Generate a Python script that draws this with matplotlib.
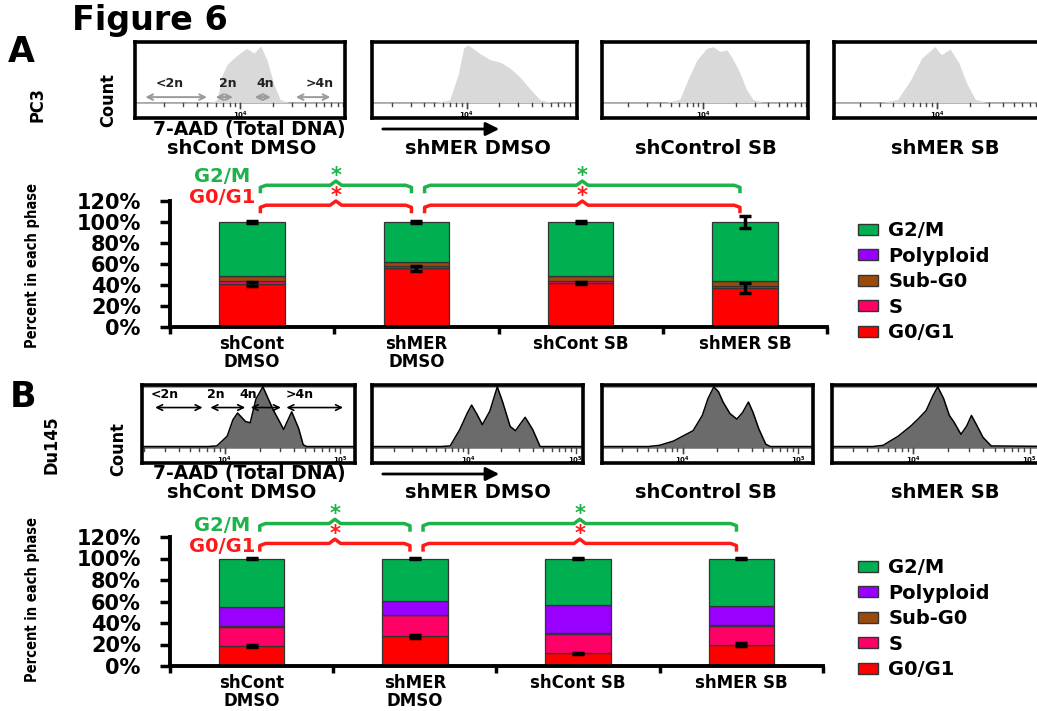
import numpy as np
import matplotlib
matplotlib.use("Agg")
import matplotlib.pyplot as plt
from matplotlib.patches import Patch, FancyArrowPatch

W, H = 1037, 711

# ---- bar chart data (percent of cells in each phase) ----
phases = ["G0/G1", "S", "Sub-G0", "Polyploid", "G2/M"]
phase_colors = ["#ff0000", "#ff0066", "#9c4a0a", "#9900ff", "#00b050"]
bar_labels = ["shCont\nDMSO", "shMER\nDMSO", "shCont SB", "shMER SB"]
hist_titles = ["shCont DMSO", "shMER DMSO", "shControl SB", "shMER SB"]
yticks_pct = [0, 20, 40, 60, 80, 100, 120]

pc3_g0g1 = [41, 56, 42, 37]
pc3_s = [3, 2.5, 2, 2]
pc3_subg0 = [4.5, 3.5, 4.5, 5]
pc3_poly = [0, 0, 0, 0]
pc3_g2m = [51.5, 38, 51.5, 56]
pc3_g0g1_err = [1.5, 2.5, 1.0, 5.0]
pc3_top_err = [1.0, 1.0, 0.5, 5.5]

du_g0g1 = [18.5, 27.5, 12, 20]
du_s = [17.5, 19.5, 17.5, 17.3]
du_subg0 = [1.5, 0.5, 0.8, 0.7]
du_poly = [17.5, 13, 26, 18]
du_g2m = [45, 39.5, 43.7, 44]
du_g0g1_err = [0.8, 1.2, 0.5, 1.2]
du_top_err = [0.6, 0.6, 0.3, 0.3]

# significant comparisons (bar index pairs)
comparisons = [(0, 1), (1, 3)]

# ---- DNA histograms: log10(7-AAD) vs relative count ----
pc3_cd_x = [2.9, 3.6, 3.75, 3.79, 3.83, 3.88, 3.94, 4.0, 4.06, 4.13, 4.19, 4.25, 4.31, 4.37, 4.45, 5.2]
pc3_cd_y = [0.01, 0.01, 0.02, 0.06, 0.46, 0.66, 0.77, 0.86, 0.94, 0.86, 0.98, 0.74, 0.34, 0.06, 0.01, 0.01]
pc3_md_x = [2.9, 3.7, 3.84, 3.92, 3.97, 4.01, 4.12, 4.21, 4.31, 4.40, 4.49, 4.58, 4.68, 4.8, 5.2]
pc3_md_y = [0.01, 0.01, 0.05, 0.5, 0.95, 1.0, 0.85, 0.75, 0.7, 0.6, 0.45, 0.25, 0.05, 0.01, 0.01]
pc3_cs_x = [2.9, 3.65, 3.78, 3.87, 3.94, 4.03, 4.09, 4.15, 4.22, 4.27, 4.34, 4.40, 4.46, 4.55, 5.2]
pc3_cs_y = [0.01, 0.01, 0.06, 0.46, 0.74, 0.94, 0.97, 0.89, 0.91, 0.77, 0.51, 0.23, 0.06, 0.01, 0.01]
pc3_ms_x = [2.9, 3.5, 3.64, 3.76, 3.86, 3.98, 4.04, 4.12, 4.20, 4.27, 4.35, 4.45, 5.2]
pc3_ms_y = [0.01, 0.01, 0.06, 0.40, 0.77, 0.97, 0.83, 0.93, 0.69, 0.34, 0.06, 0.01, 0.01]

du_cd_x = [3.0, 3.85, 3.93, 4.02, 4.07, 4.11, 4.18, 4.22, 4.27, 4.33, 4.42, 4.48, 4.51, 4.58, 4.64, 4.68, 4.71, 5.3]
du_cd_y = [0.02, 0.02, 0.03, 0.19, 0.46, 0.57, 0.43, 0.41, 0.8, 1.0, 0.62, 0.41, 0.30, 0.59, 0.32, 0.05, 0.02, 0.02]
du_md_x = [3.0, 3.74, 3.83, 3.92, 3.99, 4.03, 4.08, 4.13, 4.20, 4.27, 4.32, 4.39, 4.44, 4.48, 4.53, 4.60, 4.67, 5.3]
du_md_y = [0.02, 0.02, 0.03, 0.3, 0.57, 0.7, 0.55, 0.38, 0.6, 1.0, 0.75, 0.35, 0.28, 0.38, 0.5, 0.3, 0.02, 0.02]
du_cs_x = [3.0, 3.7, 3.80, 3.92, 4.0, 4.09, 4.17, 4.22, 4.27, 4.31, 4.35, 4.41, 4.47, 4.52, 4.57, 4.61, 4.66, 4.72, 4.76, 5.3]
du_cs_y = [0.02, 0.02, 0.04, 0.11, 0.19, 0.28, 0.53, 0.81, 1.0, 0.92, 0.75, 0.56, 0.47, 0.58, 0.75, 0.58, 0.31, 0.06, 0.02, 0.02]
du_ms_x = [3.0, 3.65, 3.74, 3.87, 3.98, 4.04, 4.11, 4.17, 4.21, 4.26, 4.31, 4.35, 4.41, 4.46, 4.50, 4.54, 4.60, 4.67, 5.3]
du_ms_y = [0.02, 0.02, 0.04, 0.19, 0.36, 0.47, 0.61, 0.86, 1.0, 0.81, 0.53, 0.42, 0.22, 0.36, 0.53, 0.39, 0.17, 0.03, 0.02]

gate_labels = ["<2n", "2n", "4n", ">4n"]
pc3_gates = [(3.10, 3.72), (3.75, 3.96), (4.11, 4.31), (4.49, 4.86)]
du_gates = [(3.37, 3.83), (3.85, 4.20), (4.20, 4.51), (4.51, 5.05)]
pc3_gate_text_x = [3.35, 3.89, 4.23, 4.74]
du_gate_text_x = [3.48, 3.92, 4.20, 4.65]

plt.rcParams["font.family"] = "DejaVu Sans"
plt.rcParams["font.weight"] = "bold"
NARROW = ["Liberation Sans Narrow", "DejaVu Sans"]

fig = plt.figure(figsize=(W / 100, H / 100), dpi=100)


def fx(px):
    return px / W


def fy(py):
    return 1 - py / H


def px_axes(x0, y0, x1, y1):
    return fig.add_axes([fx(x0), fy(y1), (x1 - x0) / W, (y1 - y0) / H])


def draw_hist(ax, xs, ys, xlim, ylim, dark, label_decs):
    ax.set_xlim(xlim)
    ax.set_ylim(ylim)
    ax.axhline(0, color="#8a8a8a", lw=1.2, zorder=1)
    if dark:
        ax.fill_between(xs, 0, ys, color="#6b6b6b", lw=0, zorder=2)
        ax.plot(xs, ys, color="black", lw=1.1, zorder=3)
        ax.axhline(ylim[1] - 0.03, color="#a0a0a0", lw=1.5)
    else:
        ax.fill_between(xs, 0, ys, color="#d9d9d9", lw=0, zorder=2)
    for dec in (3, 4):
        for k in range(1, 10):
            t = np.log10(k * 10 ** dec)
            if xlim[0] < t < xlim[1]:
                ln = 0.09 if k == 1 else 0.05
                ax.plot([t, t], [0, -ln], color="#444", lw=1)
    for dec in label_decs:
        if xlim[0] < dec < xlim[1]:
            ax.plot([dec, dec], [0, -0.09], color="#444", lw=1)
            ax.text(dec, -0.12, f"$10^{dec}$", fontsize=5, ha="center", va="top",
                    fontweight="normal")
    ax.set_xticks([])
    ax.set_yticks([])
    for sp in ax.spines.values():
        sp.set_linewidth(2.6)


def draw_bars(ax, stacks, g1_err, top_err, green_y, red_y, lab_y):
    x = np.arange(len(bar_labels)) + 0.5
    bottoms = np.zeros(len(x))
    for vals, col in zip(stacks, phase_colors):
        ax.bar(x, vals, 0.4, bottom=bottoms, color=col, edgecolor="#333333", lw=0.9, zorder=2)
        bottoms = bottoms + np.array(vals)
    ekw = dict(fmt="none", ecolor="black", elinewidth=2.5, capsize=4, capthick=2.5, zorder=4)
    ax.errorbar(x, stacks[0], yerr=g1_err, **ekw)
    ax.errorbar(x, bottoms, yerr=top_err, **ekw)
    ax.set_xlim(0, 4)
    ax.set_ylim(0, 120)
    ax.set_yticks(yticks_pct)
    ax.set_yticklabels([f"{v}%" for v in yticks_pct], fontsize=15, fontweight="bold")
    ax.set_xticks(range(5))
    ax.set_xticklabels([])
    ax.set_xticks(x, minor=True)
    ax.set_xticklabels(bar_labels, minor=True, fontsize=12, fontweight="bold",
                       linespacing=0.95)
    ax.tick_params(axis="x", which="minor", length=0, pad=6)
    ax.tick_params(axis="x", which="major", length=5, width=2.5)
    ax.tick_params(axis="y", length=7, width=2.5, pad=14)
    for s in ("top", "right"):
        ax.spines[s].set_visible(False)
    for s in ("left", "bottom"):
        ax.spines[s].set_linewidth(2.8)

    # significance braces: green for G2/M, red for G0/G1
    for (i, j) in comparisons:
        x0, x1 = x[i] + 0.05, x[j] - 0.03
        mid = (x0 + x1) / 2
        d = 0.035
        for yb, col in ((green_y, "#1db34a"), (red_y, "#ff1a1a")):
            ax.plot([x0, x0, x0 + d, mid - d, mid, mid + d, x1 - d, x1, x1],
                    [yb - 6, yb - 2, yb, yb, yb + 4, yb, yb, yb - 2, yb - 6],
                    color=col, lw=2.5, clip_on=False, solid_joinstyle="round")
            ax.text(mid, yb + 9, "*", color=col, fontsize=15, ha="center", va="center",
                    clip_on=False)
    ax.text(0.49, lab_y[0], "G2/M", color="#1db34a", fontsize=14, ha="right", va="center")
    ax.text(0.52, lab_y[1], "G0/G1", color="#ff1a1a", fontsize=14, ha="right", va="center")


# ---- titles and row labels ----
fig.text(fx(72), fy(30), "Figure 6", fontsize=24, ha="left", va="baseline")
fig.text(fx(8), fy(52), "A", fontsize=25, ha="left", va="center")
fig.text(fx(10), fy(397), "B", fontsize=25, ha="left", va="center")
side = dict(family=NARROW, fontstretch="condensed", fontsize=13, rotation=90,
            ha="center", va="center")
fig.text(fx(38), fy(105), "PC3", **side)
fig.text(fx(108), fy(100), "Count", **side)
fig.text(fx(52), fy(445), "Du145", **side)
fig.text(fx(118), fy(449), "Count", **side)
ylab = dict(family=NARROW, fontstretch="condensed", fontsize=10.5, fontweight="bold",
            rotation=90, ha="center", va="center")
fig.text(fx(33), fy(266), "Percent in each phase", **ylab)
fig.text(fx(33), fy(600), "Percent in each phase", **ylab)

# ---- histogram rows ----
pc3_boxes = [(135, 345), (372, 577), (602, 808), (834, 1040)]
pc3_xlims = [(3.03, 4.97), (3.12, 5.02), (3.06, 4.97), (3.06, 4.94)]
du_boxes = [(142, 355), (372, 583), (602, 813), (832, 1040)]
du_xlims = [(3.28, 5.13), (3.10, 5.07), (3.30, 5.13), (3.30, 5.09)]
pc3_hists = [(pc3_cd_x, pc3_cd_y), (pc3_md_x, pc3_md_y), (pc3_cs_x, pc3_cs_y), (pc3_ms_x, pc3_ms_y)]
du_hists = [(du_cd_x, du_cd_y), (du_md_x, du_md_y), (du_cs_x, du_cs_y), (du_ms_x, du_ms_y)]
title_x = [242, 478, 706, 945]

for k, ((x0, x1), xl, (hx, hy)) in enumerate(zip(pc3_boxes, pc3_xlims, pc3_hists)):
    ax = px_axes(x0, 42, x1, 118)
    draw_hist(ax, hx, hy, xl, (-0.26, 1.05), dark=False, label_decs=(4,))
    if k == 0:
        for lab, (g0, g1), tx in zip(gate_labels, pc3_gates, pc3_gate_text_x):
            ax.annotate("", xy=(g1, 0.10), xytext=(g0, 0.10),
                        arrowprops=dict(arrowstyle="<->", color="#9a9a9a", lw=1.4))
            ax.text(tx, 0.34, lab, fontsize=9, ha="center", va="center", color="#222")
    fig.text(fx(title_x[k]), fy(148), hist_titles[k], fontsize=14, ha="center", va="center")

for k, ((x0, x1), xl, (hx, hy)) in enumerate(zip(du_boxes, du_xlims, du_hists)):
    ax = px_axes(x0, 385, x1, 463)
    draw_hist(ax, hx, hy, xl, (-0.25, 1.03), dark=True, label_decs=(4, 5))
    if k == 0:
        for lab, (g0, g1), tx in zip(gate_labels, du_gates, du_gate_text_x):
            ax.annotate("", xy=(g1, 0.66), xytext=(g0, 0.66),
                        arrowprops=dict(arrowstyle="<->", color="black", lw=1.2))
            ax.text(tx, 0.87, lab, fontsize=9, ha="center", va="center", color="black")
    fig.text(fx(title_x[k]), fy(493), hist_titles[k], fontsize=14, ha="center", va="center")

for yy in (129, 474):
    fig.text(fx(153), fy(yy), "7-AAD (Total DNA)", fontsize=13.5, ha="left", va="center")
    fig.add_artist(FancyArrowPatch(
        (fx(380), fy(yy)), (fx(502), fy(yy)), transform=fig.transFigure,
        arrowstyle="-|>,head_length=8,head_width=4", color="black", lw=2))

# ---- stacked bar panels ----
axA = px_axes(170, 201, 827, 327)
draw_bars(axA, [pc3_g0g1, pc3_s, pc3_subg0, pc3_poly, pc3_g2m], pc3_g0g1_err, pc3_top_err,
          135, 116, (143, 123))
axB = px_axes(170, 537, 823, 666)
draw_bars(axB, [du_g0g1, du_s, du_subg0, du_poly, du_g2m], du_g0g1_err, du_top_err,
          132.5, 114, (131, 111.5))

handles = [Patch(facecolor=c, edgecolor="#333333", lw=1, label=p)
           for p, c in zip(phases[::-1], phase_colors[::-1])]
for top in (221, 558):
    fig.legend(handles=handles, loc="upper left", bbox_to_anchor=(fx(858), fy(top)),
               frameon=False, fontsize=14, handlelength=1.05, handleheight=0.5,
               handletextpad=0.5, labelspacing=0.34, borderpad=0, borderaxespad=0)

fig.savefig("out.png", dpi=100)
